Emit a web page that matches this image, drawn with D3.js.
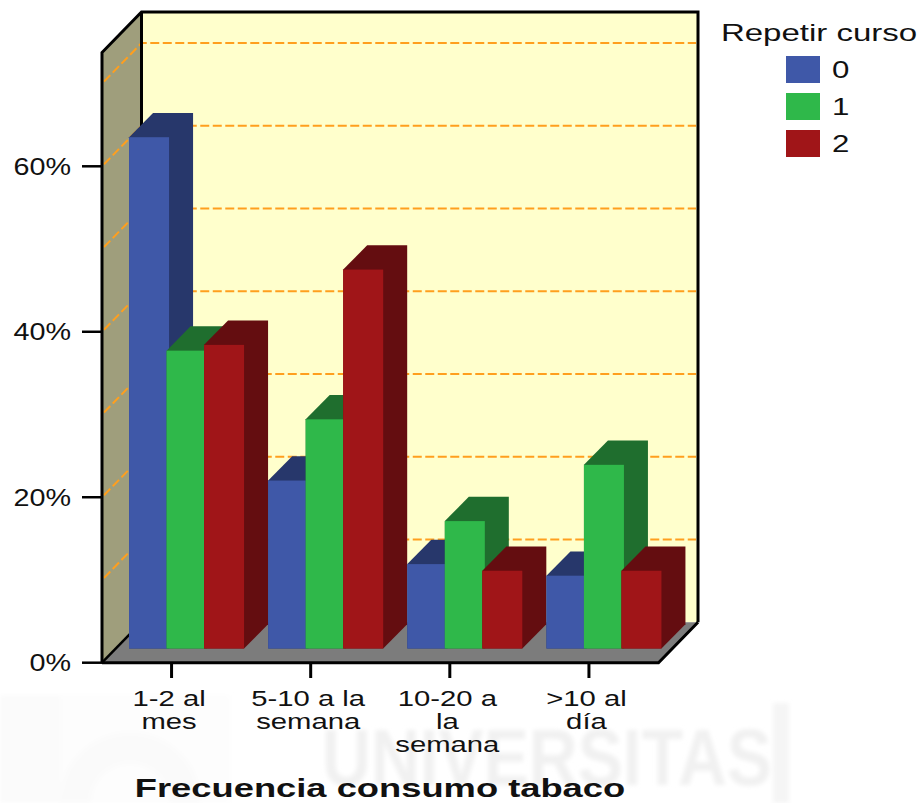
<!DOCTYPE html>
<html><head><meta charset="utf-8">
<script src="https://cdn.jsdelivr.net/npm/d3@7"></script>
<style>html,body{margin:0;padding:0;background:#fff;overflow:hidden}svg{display:block}text{font-family:"Liberation Sans",Arial,sans-serif;fill:#111}</style>
</head><body><svg id="c" width="924" height="803"></svg>
<script>
const categories = ["1-2 al mes","5-10 a la semana","10-20 a la semana",">10 al día"];
const categoryLines = [["1-2 al","mes"],["5-10 a la","semana"],["10-20 a","la","semana"],[">10 al","día"]];
const seriesNames = ["0","1","2"];
const series0 = [61.8,20.3,10.2,8.8];
const series1 = [36.0,27.7,15.4,22.2];
const series2 = [36.7,45.8,9.4,9.4];
const tickValues = [0,20,40,60];
const gridValues = [10,20,30,40,50,60,70];
const frontColors = ["#3f58a8","#2fb84a","#a01518"];
const darkColors = ["#27376b","#1f6e2e","#640d10"];
const xAxisTitle = "Frecuencia consumo tabaco";
const legendTitle = "Repetir curso";
const watermark = "UNIVERSITAS";

const svg = d3.select("#c");
const x = d3.scaleBand().domain(categories).range([102,658.5]);
const y = d3.scaleLinear().domain([0,60]).range([662.7,166.3]);
const depthX = 39.5, depthY = 40.5, topY = 12, barDepthX = 24, barDepthY = 24.3, barInset = 14.2, barW = 40, barStep = 37.5;
const yTop = y.invert(topY + depthY);

// faint background watermark
const defs = svg.append("defs");
defs.append("filter").attr("id","b").append("feGaussianBlur").attr("stdDeviation",2.2);
const wm = svg.append("g").attr("filter","url(#b)");
wm.append("rect").attr("x",0).attr("y",695).attr("width",60).attr("height",108).attr("fill","#fbfbfb");
wm.append("rect").attr("x",60).attr("y",695).attr("width",170).attr("height",108).attr("fill","#fdfdfd");
wm.append("path").attr("d","M60 803 A70 70 0 0 1 200 803 L170 803 A40 40 0 0 0 90 803Z").attr("fill","#fafafa");
wm.append("rect").attr("x",773).attr("y",703).attr("width",16).attr("height",100).attr("fill","#f5f5f5");
wm.append("text").attr("transform","translate(322,785) scale(1,1.1)")
  .attr("font-size",72).attr("font-weight","bold").style("fill","#f1f1f1")
  .attr("textLength",450).attr("lengthAdjust","spacingAndGlyphs").text(watermark);

// walls
const x0 = x.range()[0], x1 = x.range()[1], y0 = y(0);
const poly = (pts,fill)=>svg.append("polygon").attr("points",pts.map(p=>p.join(",")).join(" ")).attr("fill",fill);
poly([[x0+depthX,topY],[x1+depthX,topY],[x1+depthX,y0-depthY],[x0+depthX,y0-depthY]],"#ffffcc");
poly([[x0,y(yTop)],[x0+depthX,topY],[x0+depthX,y0-depthY],[x0,y0]],"#9f9e7c");
poly([[x0,y0],[x0+depthX,y0-depthY],[x1+depthX,y0-depthY],[x1,y0]],"#7c7c7c");

// gridlines
const gridG = svg.append("g").attr("fill","none").attr("stroke","#ff9f1e").attr("stroke-width",2).attr("stroke-dasharray","9,3.5");
gridG.selectAll("path").data(gridValues).join("path")
  .attr("d",v=>`M${x0+2},${y(v)-2}L${x0+depthX},${y(v)-depthY}L${x1+depthX-2},${y(v)-depthY}`);

// frame
const fr = svg.append("g").attr("fill","none").attr("stroke","#000").attr("stroke-width",3).attr("stroke-linejoin","miter");
fr.append("path").attr("d",`M${x0},${y0}L${x0},${y(yTop)}L${x0+depthX},${topY}L${x1+depthX},${topY}L${x1+depthX},${y0-depthY}`);
fr.append("path").attr("d",`M${x0+depthX},${topY}L${x0+depthX},${y0-depthY}`);
fr.append("path").attr("d",`M${x0},${y0}L${x0+depthX},${y0-depthY}`).attr("stroke-width",2.5);

// bars
const allSeries = [series0,series1,series2];
const bars = svg.append("g");
const base = y0 - barInset;
const h = v => y0 - y(v);
categories.forEach((c,ci)=>{
  const cx = x(c) + x.bandwidth()/2;
  allSeries.forEach((s,si)=>{
    const bx = cx - 42.5 + si*barStep;
    const t = base - h(s[ci]);
    const g = bars.append("g");
    g.append("polygon").attr("points",[[bx,t],[bx+barDepthX,t-barDepthY],[bx+barW+barDepthX,t-barDepthY],[bx+barW+barDepthX,base-barDepthY],[bx+barW,base],[bx,base]].map(p=>p.join(",")).join(" ")).attr("fill",darkColors[si]);
    g.append("rect").attr("x",bx).attr("y",t).attr("width",barW).attr("height",base-t).attr("fill",frontColors[si]);
  });
});

// front axis edges and ticks
const ax = svg.append("g").attr("stroke","#000").attr("stroke-width",3).attr("fill","none");
ax.append("path").attr("d",`M${x0},${y0}L${x1},${y0}L${x1+depthX},${y0-depthY}`);
ax.selectAll(".yt").data(tickValues).join("line").attr("class","yt").attr("x1",82).attr("x2",x0).attr("y1",v=>y(v)).attr("y2",v=>y(v)).attr("stroke-width",2.5);
ax.selectAll(".xt").data(categories).join("line").attr("class","xt").attr("x1",c=>x(c)+x.bandwidth()/2).attr("x2",c=>x(c)+x.bandwidth()/2).attr("y1",y0).attr("y2",678);

// text helper: horizontally widened type
function label(px,py,str,size,k,anchor,weight){
  return svg.append("text").attr("transform",`translate(${px},${py}) scale(${k},1)`)
    .attr("font-size",size).attr("text-anchor",anchor||"middle").attr("font-weight",weight||"normal").text(str);
}
tickValues.forEach(v=>label(71,y(v)+8.5,v+"%",23,1.25,"end"));
categories.forEach((c,i)=>{
  const t = label(x(c)+x.bandwidth()/2-2.5,705.5,null,22,1.33);
  t.selectAll("tspan").data(categoryLines[i]).join("tspan").attr("x",0).attr("y",(d,j)=>j*23.5).text(d=>d);
});
label(380,797,xAxisTitle,25,1.453,"middle","bold");
label(819,41,legendTitle,24,1.375);
seriesNames.forEach((s,i)=>{
  const ly = 56+i*37;
  svg.append("rect").attr("x",786).attr("y",ly).attr("width",34).attr("height",27).attr("fill",frontColors[i]);
  label(832,ly+22,s,24,1.3,"start");
});
</script></body></html>
